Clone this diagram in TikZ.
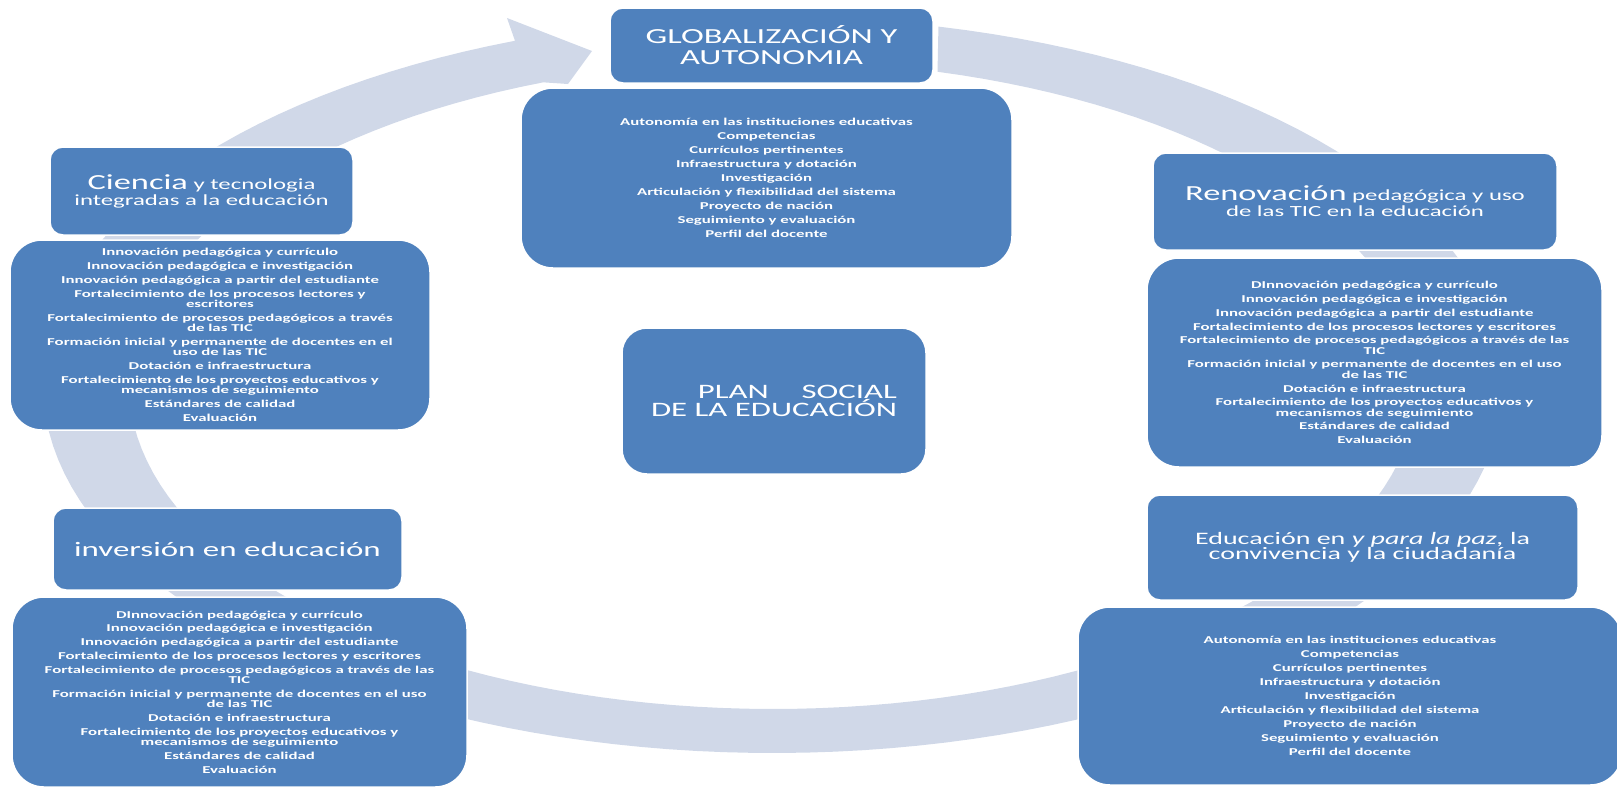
\documentclass[tikz,border=0pt]{standalone}
\usepackage{fontspec}
\setmainfont[FakeStretch=1.6]{Carlito}
\definecolor{boxblue}{RGB}{79,129,189}
\definecolor{ringblue}{RGB}{208,216,232}

\begin{document}
\begin{tikzpicture}[x=1pt,y=-1pt]
    \useasboundingbox (0,0) rectangle (1617,788);
    \clip (0,0) rectangle (1617,788);
    % circular arrow behind the boxes
    \fill[ringblue] plot[domain=76.9:-249.3,samples=150] ({773+730*cos(\x)},{385-368*sin(\x)})
        -- (507,18) -- (592,51) -- (568,84)
        -- plot[domain=-249.1:75.2,samples=150] ({773+644*cos(\x)},{385-324*sin(\x)}) -- cycle;
    \begin{scope}[every node/.style={rectangle,rounded corners=13pt,fill=boxblue,draw=white,line width=1.5pt,text=white,align=center,inner sep=2pt}]
        \node[minimum width=323pt,minimum height=75pt,font=\fontsize{21.5}{21}\selectfont] (glob) at (771.5,45.5) {GLOBALIZACIÓN Y\\AUTONOMIA};
        \node[minimum width=303pt,minimum height=88pt,font=\fontsize{15.5}{16}\selectfont] (ciencia) at (201.5,191) {{\fontsize{21.5}{16}\selectfont Ciencia} y tecnologia\\integradas a la educación};
        \node[minimum width=404pt,minimum height=97pt,font=\fontsize{15.5}{16}\selectfont] (renov) at (1355,201.5) {{\fontsize{21.5}{16}\selectfont Renovación} pedagógica y uso\\de las TIC en la educación};
        \node[minimum width=431pt,minimum height=105pt,font=\fontsize{17.5}{15.5}\selectfont] (paz) at (1362.5,547.5) {Educación en \textit{y para la paz,} la\\convivencia y la ciudadanía};
        \node[minimum width=349pt,minimum height=82pt,font=\fontsize{20.6}{21}\selectfont] (invers) at (227.5,549) {inversión en educación};
        \node[rounded corners=25pt,minimum width=304pt,minimum height=146pt,align=right,font=\fontsize{20.5}{18}\selectfont] (plan) at (774,401) {\hspace*{0pt}PLAN\hspace{1.6em}SOCIAL\\DE LA EDUCACIÓN};
    \end{scope}
    \begin{scope}[every node/.style={rectangle,rounded corners=32pt,fill=boxblue,draw=white,line width=1.5pt,text=white,align=center,inner sep=2pt,font=\fontsize{10.5}{10.3}\selectfont\bfseries}]
        \node[minimum width=491pt,minimum height=180pt] (globitems) at (766.5,178) {Autonomía en las instituciones educativas\\[3.7pt]
            Competencias\\[3.7pt]
            Currículos pertinentes\\[3.7pt]
            Infraestructura y dotación\\[3.7pt]
            Investigación\\[3.7pt]
            Articulación y flexibilidad del sistema\\[3.7pt]
            Proyecto de nación\\[3.7pt]
            Seguimiento y evaluación\\[3.7pt]
            Perfil del docente};
        \node[minimum width=420pt,minimum height=190pt] (cienciaitems) at (220,335) {Innovación pedagógica y currículo\\[3.5pt]
            Innovación pedagógica e investigación\\[3.5pt]
            Innovación pedagógica a partir del estudiante\\[3.5pt]
            Fortalecimiento de los procesos lectores y\\escritores\\[3.5pt]
            Fortalecimiento de procesos pedagógicos a través\\de las TIC\\[3.5pt]
            Formación inicial y permanente de docentes en el\\uso de las TIC\\[3.5pt]
            Dotación e infraestructura\\[3.5pt]
            Fortalecimiento de los proyectos educativos y\\mecanismos de seguimiento\\[3.5pt]
            Estándares de calidad\\[3.5pt]
            Evaluación};
        \node[minimum width=455pt,minimum height=209pt] (renovitems) at (1374.5,362.5) {DInnovación pedagógica y currículo\\[3.5pt]
            Innovación pedagógica e investigación\\[3.5pt]
            Innovación pedagógica a partir del estudiante\\[3.5pt]
            Fortalecimiento de los procesos lectores y escritores\\[3.5pt]
            Fortalecimiento de procesos pedagógicos a través de las\\TIC\\[3.5pt]
            Formación inicial y permanente de docentes en el uso\\de las TIC\\[3.5pt]
            Dotación e infraestructura\\[3.5pt]
            Fortalecimiento de los proyectos educativos y\\mecanismos de seguimiento\\[3.5pt]
            Estándares de calidad\\[3.5pt]
            Evaluación};
        \node[minimum width=544pt,minimum height=178pt] (pazitems) at (1350,696) {Autonomía en las instituciones educativas\\[3.7pt]
            Competencias\\[3.7pt]
            Currículos pertinentes\\[3.7pt]
            Infraestructura y dotación\\[3.7pt]
            Investigación\\[3.7pt]
            Articulación y flexibilidad del sistema\\[3.7pt]
            Proyecto de nación\\[3.7pt]
            Seguimiento y evaluación\\[3.7pt]
            Perfil del docente};
        \node[minimum width=455pt,minimum height=190pt] (inversitems) at (239.5,692) {DInnovación pedagógica y currículo\\[3.5pt]
            Innovación pedagógica e investigación\\[3.5pt]
            Innovación pedagógica a partir del estudiante\\[3.5pt]
            Fortalecimiento de los procesos lectores y escritores\\[3.5pt]
            Fortalecimiento de procesos pedagógicos a través de las\\TIC\\[3.5pt]
            Formación inicial y permanente de docentes en el uso\\de las TIC\\[3.5pt]
            Dotación e infraestructura\\[3.5pt]
            Fortalecimiento de los proyectos educativos y\\mecanismos de seguimiento\\[3.5pt]
            Estándares de calidad\\[3.5pt]
            Evaluación};
    \end{scope}
\end{tikzpicture}
\end{document}
